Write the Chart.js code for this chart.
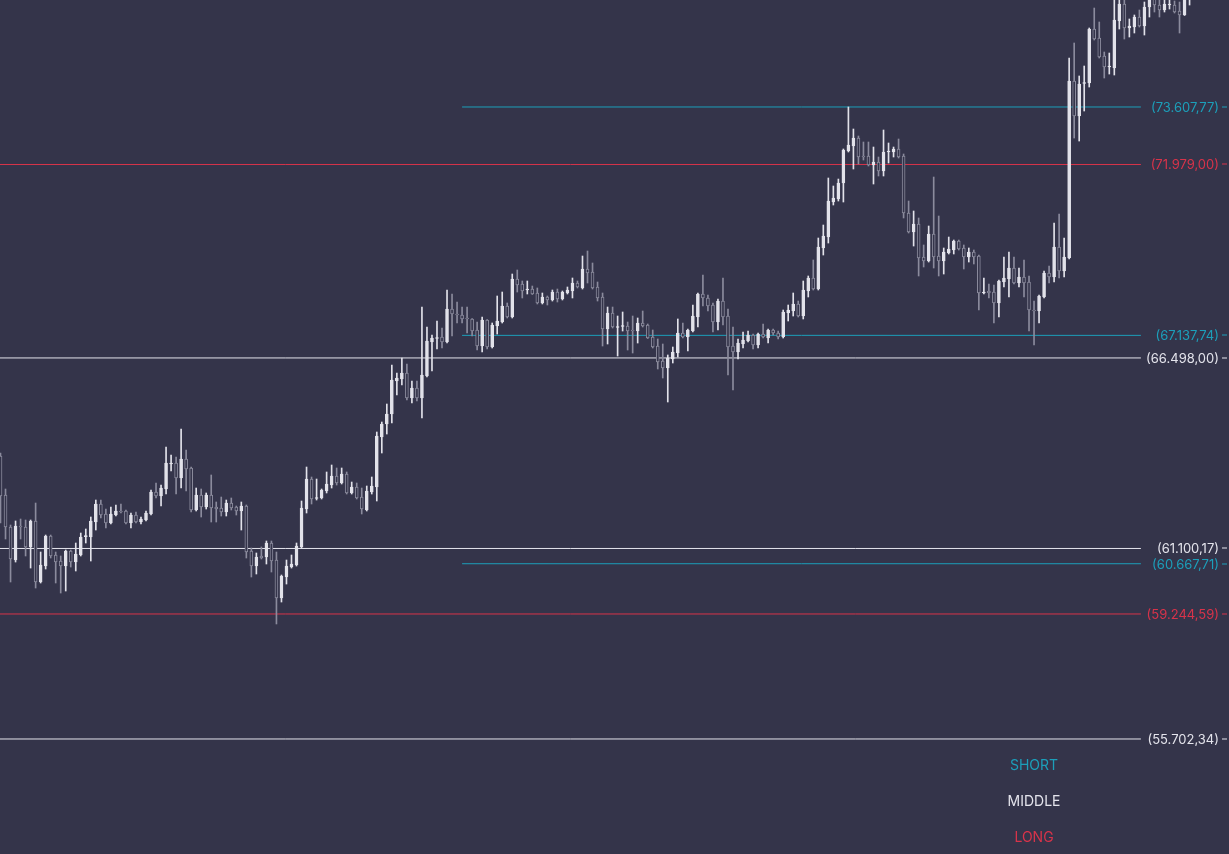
<!DOCTYPE html>
<html>
<head>
<meta charset="utf-8">
<title>Price levels</title>
<script src="https://cdn.jsdelivr.net/npm/chart.js@4.4.1/dist/chart.umd.min.js"></script>
<style>
  html, body { margin: 0; padding: 0; background: #34344a; overflow: hidden; }
  #wrap { width: 1229px; height: 854px; position: relative; }
</style>
</head>
<body>
<div id="wrap"><canvas id="priceChart"></canvas></div>
<script>
// candles, one value per bar (oldest first)
const opens = [
  63720, 62615, 61709, 60773, 61737, 61709, 61142, 61879, 60150, 60603,
  61453, 60915, 60745, 60603, 61029, 60716, 60915, 61434, 61425, 61850,
  62360, 62077, 61822, 62048, 62162, 62162, 61822, 62048, 61850, 61907,
  62077, 62700, 62587, 62785, 63493, 63522, 63097, 63635, 63380, 62190,
  62615, 62275, 62615, 62275, 62247, 62133, 62388, 62275, 62162, 62303,
  61029, 60603, 60887, 60858, 61255, 60773, 59697, 60292, 60575, 60631,
  61142, 62218, 63068, 62516, 62530, 62728, 62898, 63153, 62955, 63210,
  62672, 62842, 62558, 62190, 62700, 62842, 64258, 64627, 64910, 65845,
  65902, 66071, 65363, 65647, 65363, 65987, 66950, 67049, 67091, 66950,
  67885, 67743, 67715, 67630, 67602, 67290, 66836, 67573, 66808, 67403,
  67516, 67970, 67658, 68735, 68593, 68423, 68451, 68338, 68055, 68225,
  68140, 68366, 68168, 68338, 68395, 68621, 68480, 69018, 68933, 68508,
  68225, 67318, 67771, 67361, 67389, 67403, 67290, 67261, 67488, 67431,
  67091, 66836, 66412, 66213, 66468, 66638, 67205, 67091, 67261, 67658,
  68310, 68197, 67998, 67516, 68111, 67686, 66836, 66666, 66893, 66978,
  67148, 66865, 67176, 67063, 67290, 67205, 67091, 67771, 67828, 68027,
  67686, 68395, 68763, 68451, 69613, 69924, 70916, 71001, 71454, 72361,
  72503, 72729, 72219, 72219, 71964, 72049, 71794, 72333, 72333, 72418,
  72219, 70604, 70066, 70293, 69358, 69244, 70009, 69386, 69244, 69471,
  69556, 69811, 69613, 69358, 69499, 69386, 68338, 68395, 68366, 68055,
  68650, 68735, 69046, 68621, 68791, 68650, 67856, 67828, 68225, 68905,
  68791, 69641, 68961, 69329, 74344, 73353, 74273, 74287, 75817, 75562,
  75052, 74741, 74712, 76044, 76526, 75846, 75874, 76157, 75902, 76441,
  76667, 76497, 76356, 76497, 76497, 76327, 76214, 76700
];
const highs = [
  63805, 62785, 61765, 61879, 61935, 61907, 61907, 62388, 61000, 61481,
  61481, 61000, 60887, 61057, 61057, 61255, 61538, 61652, 61992, 62473,
  62473, 62218, 62275, 62332, 62360, 62190, 62105, 62133, 61992, 62162,
  62757, 62955, 62898, 63975, 63748, 63692, 64485, 63890, 63408, 62813,
  62785, 62672, 63182, 62417, 62558, 62473, 62530, 62303, 62417, 62332,
  61113, 60972, 61142, 61312, 61312, 61000, 60348, 60773, 60915, 61255,
  62445, 63408, 63125, 63068, 62785, 63267, 63465, 63380, 63380, 63267,
  62983, 62955, 62813, 62870, 63125, 64400, 64683, 65193, 66298, 66071,
  66497, 66327, 65845, 65845, 67941, 67375, 67148, 67545, 67346, 68423,
  68310, 68083, 67941, 67941, 67616, 67516, 67658, 67587, 67488, 68253,
  68366, 68055, 68876, 68990, 68678, 68678, 68536, 68480, 68338, 68253,
  68423, 68451, 68395, 68508, 68763, 68678, 69386, 69528, 69188, 68650,
  68338, 67941, 67941, 67686, 67800, 67516, 67686, 67630, 67828, 67460,
  67290, 67035, 66893, 66582, 66808, 67602, 67488, 67318, 67998, 68338,
  68848, 68281, 68055, 68168, 68763, 67885, 67375, 67035, 67233, 67261,
  67176, 67205, 67460, 67318, 67318, 67261, 67856, 67998, 68338, 68111,
  68678, 68820, 69273, 69896, 70264, 71596, 71369, 71567, 72418, 73608,
  72984, 72786, 72616, 72616, 72474, 72191, 72956, 72588, 72474, 72701,
  72276, 70944, 70661, 70463, 69698, 70236, 71624, 70519, 69613, 69924,
  69839, 69839, 69698, 69613, 69556, 69414, 68763, 68593, 68565, 68706,
  69358, 69499, 69358, 69046, 69273, 68820, 68111, 68281, 68961, 69103,
  70321, 70576, 69896, 74995, 75421, 74486, 74769, 75846, 76412, 76016,
  75166, 75137, 76700, 76750, 76700, 76101, 76214, 76356, 76582, 76750,
  76750, 76639, 76667, 76640, 76611, 76582, 76750, 76800
];
const lows = [
  61822, 61368, 60150, 60716, 61368, 60887, 60546, 59980, 60122, 60518,
  60830, 60122, 59838, 59895, 60575, 60462, 60887, 61255, 60745, 61623,
  61963, 61680, 61794, 62020, 62105, 61794, 61680, 61822, 61794, 61879,
  62048, 62530, 62303, 62643, 63295, 62643, 62813, 62728, 62133, 62162,
  61992, 62218, 61850, 61850, 62020, 62020, 62190, 62048, 61623, 60830,
  60292, 60377, 60802, 60660, 60433, 58961, 59583, 60093, 60546, 60603,
  61113, 62105, 62360, 62473, 62502, 62672, 62813, 62898, 62927, 62643,
  62643, 62502, 62077, 62162, 62643, 62445, 63805, 64343, 64655, 65448,
  65732, 65306, 65221, 65278, 64796, 65958, 66128, 66751, 66780, 66921,
  67120, 67488, 67488, 67205, 67120, 66723, 66666, 66751, 66780, 67176,
  67488, 67630, 67630, 68366, 68197, 68310, 68296, 68027, 68027, 67998,
  68111, 68083, 68140, 68310, 68197, 68480, 68451, 68621, 68451, 68111,
  66836, 66893, 67346, 66553, 67261, 66723, 66638, 66921, 67375, 67049,
  66780, 66185, 65930, 65250, 66355, 66525, 67063, 66695, 67233, 67375,
  67970, 67828, 67233, 67290, 67431, 66015, 65590, 66468, 66780, 66950,
  66751, 66780, 67063, 66921, 67148, 67035, 67063, 67545, 67686, 67658,
  67602, 68225, 68423, 68423, 69414, 69754, 70831, 70944, 70916, 72333,
  71851, 71993, 72106, 71936, 71426, 71653, 71653, 72021, 72191, 72163,
  70463, 70038, 69669, 68820, 69075, 69216, 69046, 68820, 68876, 69443,
  69443, 69556, 69018, 69216, 69160, 67856, 68310, 68197, 67488, 67658,
  68508, 68225, 68593, 68508, 68225, 67261, 66865, 67488, 68197, 68621,
  68650, 68763, 68791, 69301, 72729, 72644, 73494, 74174, 75506, 74996,
  74429, 74542, 74514, 75817, 75534, 75591, 75704, 75874, 75647, 76157,
  76299, 76157, 76299, 76384, 76271, 75704, 76200, 76497
];
const closes = [
  62587, 61709, 60802, 61737, 61709, 61142, 61879, 60150, 60631, 61453,
  60887, 60716, 60603, 61029, 60716, 60944, 61425, 61453, 61879, 62360,
  62048, 61822, 62077, 62162, 62133, 61822, 62048, 61850, 61935, 62105,
  62700, 62587, 62813, 63522, 63522, 63097, 63635, 63352, 62190, 62615,
  62275, 62615, 62247, 62218, 62133, 62388, 62247, 62162, 62303, 61000,
  60603, 60858, 60830, 61255, 60745, 59697, 60320, 60603, 60660, 61170,
  62247, 63068, 62502, 62544, 62757, 62927, 63153, 62955, 63210, 62672,
  62842, 62530, 62218, 62728, 62870, 64286, 64627, 64910, 65873, 65930,
  66071, 65363, 65647, 65363, 66015, 66978, 67063, 67077, 66950, 67885,
  67743, 67715, 67602, 67602, 67261, 66836, 67573, 66808, 67431, 67545,
  67970, 67658, 68735, 68565, 68395, 68451, 68310, 68055, 68225, 68140,
  68366, 68168, 68366, 68423, 68621, 68508, 69018, 68905, 68480, 68197,
  67318, 67771, 67375, 67389, 67403, 67261, 67261, 67488, 67403, 67063,
  66808, 66383, 66213, 66497, 66666, 67205, 67091, 67290, 67686, 68310,
  68197, 67970, 67516, 68111, 67658, 66808, 66666, 66921, 67006, 67148,
  66865, 67176, 67091, 67290, 67205, 67091, 67800, 67856, 68027, 67686,
  68423, 68763, 68451, 69641, 69953, 70944, 71029, 71454, 72389, 72531,
  72729, 72191, 72191, 71964, 72049, 71794, 72333, 72361, 72418, 72191,
  70604, 70066, 70293, 69329, 69244, 70009, 69358, 69244, 69499, 69584,
  69811, 69584, 69358, 69499, 69358, 68338, 68366, 68338, 68055, 68678,
  68763, 69046, 68621, 68791, 68621, 67856, 67828, 68253, 68905, 68791,
  69641, 68961, 69358, 74344, 73353, 74259, 74287, 75817, 75534, 75024,
  74741, 74769, 76072, 76526, 75846, 75902, 76157, 75902, 76441, 76650,
  76497, 76356, 76526, 76497, 76299, 76214, 76700, 76750
];

// horizontal levels
const shortLevels = [73607.77, 67137.74, 60667.71];
const middleLevels = [66498.00, 61100.17, 55702.34];
const longLevels = [71979.00, 59244.59];
const legendLabels = ['SHORT', 'MIDDLE', 'LONG'];
const shortFrom = 92;     // candle index where the short levels begin
const levelsTo = 227.3;   // levels stop here, labels sit to the right

const bg = '#34344a';
const upColor = '#e2e2ea';
const downColor = '#8b8b9d';
const colors = { SHORT: '#1c9fba', MIDDLE: '#e4e4ec', LONG: '#d8334a' };

const isUp = i => closes[i] >= opens[i];

function fmt(v) {
    const parts = v.toFixed(2).split('.');
    return parts[0].replace(/\B(?=(\d{3})+(?!\d))/g, '.') + ',' + parts[1];
}

function levelSet(values, color, from) {
    return values.map(v => ({
        type: 'line',
        data: [{ x: from, y: v }, { x: levelsTo, y: v }],
        borderColor: color,
        borderWidth: 1,
        pointRadius: 0,
        order: 3
    }));
}

const levelLabels = {
    id: 'levelLabels',
    afterDraw(chart) {
        const ctx = chart.ctx;
        const y = chart.scales.y;
        ctx.save();
        ctx.font = '13px Inter';
        ctx.textAlign = 'right';
        ctx.textBaseline = 'middle';
        const groups = [[shortLevels, colors.SHORT], [middleLevels, colors.MIDDLE], [longLevels, colors.LONG]];
        groups.forEach(([vals, color]) => {
            vals.forEach(v => {
                const py = y.getPixelForValue(v);
                ctx.fillStyle = color;
                ctx.fillText('(' + fmt(v) + ')', 1219, py + 1);
                ctx.fillRect(1222, Math.round(py) - 0.5, 5, 1);
            });
        });
        // legend
        ctx.font = '14px Inter';
        ctx.textAlign = 'center';
        legendLabels.forEach((name, i) => {
            ctx.fillStyle = colors[name];
            ctx.fillText(name, 1034, 765.5 + i * 36);
        });
        ctx.restore();
    }
};

document.addEventListener('DOMContentLoaded', function() {
    const idx = opens.map((_, i) => i);
    const ctx = document.getElementById('priceChart').getContext('2d');
    new Chart(ctx, {
        type: 'bar',
        data: {
            datasets: [
                {
                    label: 'wicks',
                    data: idx.map(i => ({ x: i, y: [lows[i], highs[i]] })),
                    backgroundColor: idx.map(i => isUp(i) ? upColor : downColor),
                    barThickness: 1,
                    grouped: false,
                    order: 2
                },
                {
                    label: 'bodies',
                    data: idx.map(i => ({ x: i, y: [opens[i], closes[i]] })),
                    backgroundColor: idx.map(i => isUp(i) ? upColor : bg),
                    borderColor: idx.map(i => isUp(i) ? upColor : downColor),
                    borderWidth: 1,
                    borderSkipped: false,
                    barThickness: 3,
                    minBarLength: 1,
                    grouped: false,
                    order: 1
                },
                ...levelSet(shortLevels, colors.SHORT, shortFrom),
                ...levelSet(middleLevels, colors.MIDDLE, -0.1),
                ...levelSet(longLevels, colors.LONG, -0.1)
            ]
        },
        options: {
            responsive: true,
            maintainAspectRatio: false,
            animation: false,
            layout: { padding: 0 },
            scales: {
                x: { type: 'linear', min: -0.1, max: 244.86, offset: false, display: false },
                y: { min: 52444.2, max: 76639.2, display: false }
            },
            plugins: {
                legend: { display: false },
                tooltip: { enabled: false }
            }
        },
        plugins: [levelLabels]
    });
});
</script>
</body>
</html>
